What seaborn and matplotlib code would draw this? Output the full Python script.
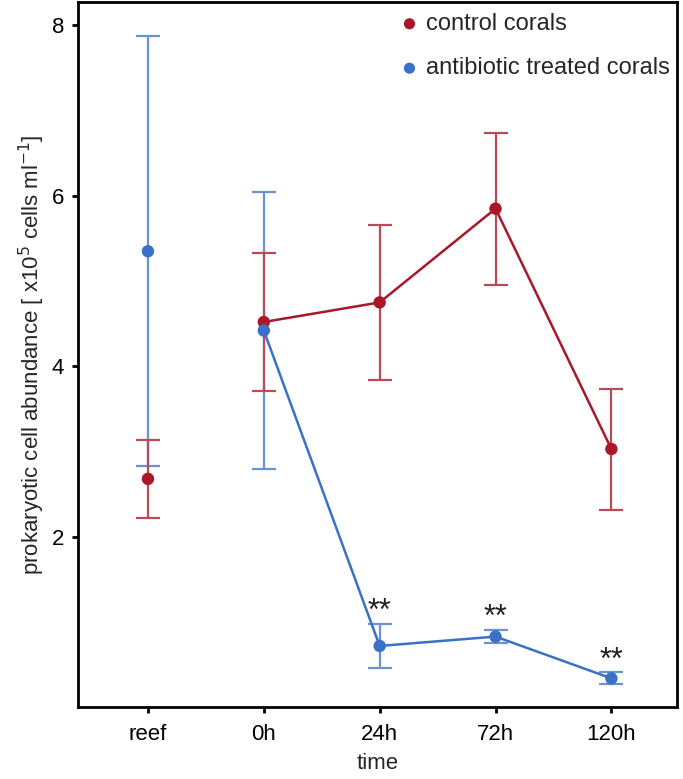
import numpy as np
import pandas as pd
import matplotlib
matplotlib.use("Agg")
import matplotlib.pyplot as plt
import seaborn as sns

# values (x10^5 cells per ml)
times = ["reef", "0h", "24h", "72h", "120h"]
control_mean = [2.68, 4.52, 4.75, 5.85, 3.03]
control_err = [0.46, 0.81, 0.91, 0.89, 0.71]
antibiotic_mean = [5.35, 4.42, 0.72, 0.83, 0.34]
antibiotic_err = [2.52, 1.63, 0.26, 0.08, 0.07]
signif = ["", "", "**", "**", "**"]

red = "#a8182a"
blue = "#3a71c6"
red_bar = "#bb4a58"
blue_bar = "#6b93d3"

sns.set_style("white")
plt.rcParams["font.family"] = ["Liberation Sans", "DejaVu Sans"]

df = pd.DataFrame({
    "pos": np.arange(len(times)),
    "time": times,
    "control": control_mean,
    "control_err": control_err,
    "antibiotic": antibiotic_mean,
    "antibiotic_err": antibiotic_err,
})

fig = plt.figure(figsize=(6.83, 7.79), dpi=100)
ax = fig.add_axes([0.114, 0.092, 0.877, 0.905])

# error bars first (blue under red), lighter than the lines
for col, color in [("antibiotic", blue_bar), ("control", red_bar)]:
    ax.errorbar(df["pos"], df[col], yerr=df[col + "_err"], fmt="none",
                ecolor=color, elinewidth=1.6, capsize=8.5,
                capthick=1.6, zorder=2)

# reef samples are not connected to the time series
series = df[df["time"] != "reef"]
sns.lineplot(data=series, x="pos", y="control", color=red, lw=1.8, ax=ax,
             zorder=3)
sns.lineplot(data=series, x="pos", y="antibiotic", color=blue, lw=1.8, ax=ax,
             zorder=3)
sns.scatterplot(data=df, x="pos", y="control", color=red, s=80,
                edgecolor="none", ax=ax, zorder=4, label="control corals")
sns.scatterplot(data=df, x="pos", y="antibiotic", color=blue, s=80,
                edgecolor="none", ax=ax, zorder=4,
                label="antibiotic treated corals")

# significance marks above the treated series
for p, m, e, s in zip(df["pos"], antibiotic_mean, antibiotic_err, signif):
    if s:
        ax.text(p, m + e - 0.04, s, ha="center", va="bottom", fontsize=22,
                color="#222222")

ax.set_xlim(-0.605, 4.565)
ax.set_ylim(0, 8.27)
ax.set_xticks(df["pos"])
ax.set_xticklabels(times)
ax.set_yticks([2, 4, 6, 8])
ax.tick_params(axis="both", direction="out", length=4, width=2,
               labelsize=16, colors="black", pad=6, bottom=True, left=True)
ax.tick_params(axis="x", pad=8)
ax.set_xlabel("time", fontsize=16, labelpad=6)
ax.set_ylabel("prokaryotic cell abundance [ x10$^{5}$ cells ml$^{-1}$]",
              fontsize=16, labelpad=3)
for sp in ax.spines.values():
    sp.set_color("black")
    sp.set_linewidth(2)

leg = ax.legend(loc="upper right", bbox_to_anchor=(1.012, 1.005),
                frameon=False, fontsize=17, handletextpad=0.1,
                borderaxespad=0.2, labelspacing=0.95, markerscale=0.9,
                handlelength=1.2)

fig.savefig("out.png", dpi=100)
